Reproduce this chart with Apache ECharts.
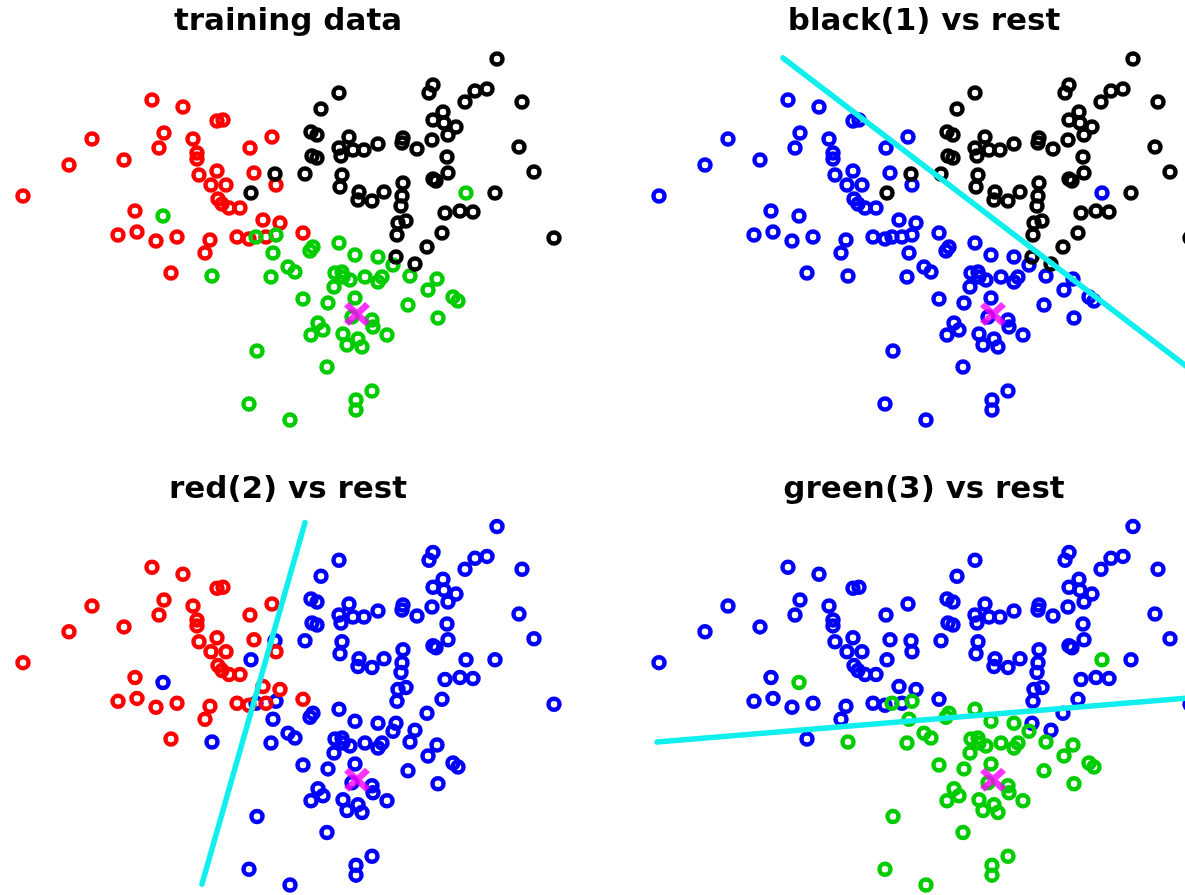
<!DOCTYPE html>
<html>
<head>
<meta charset="utf-8">
<script src="https://cdn.jsdelivr.net/npm/echarts@6/dist/echarts.min.js"></script>
<style>
  html, body { margin: 0; padding: 0; background: #fff; }
  #chart { width: 1185px; height: 895px; }
</style>
</head>
<body>
<div id="chart"></div>
<script>
// Training samples, three classes (x, y in plot units; y grows downward)
const class1Black = [
  [339,93],[321,109],[311,132],[317,135],[312,156],[317,158],[305,174],[275,174],
  [251,193],[349,137],[339,148],[341,156],[353,150],[364,150],[378,144],[342,175],
  [340,187],[359,192],[358,200],[372,201],[384,192],[403,183],[402,196],[401,206],
  [398,223],[406,221],[397,235],[396,257],[415,264],[403,138],[402,143],[417,149],
  [432,140],[447,157],[433,179],[436,181],[448,173],[433,85],[429,93],[443,112],
  [433,120],[444,123],[456,127],[448,135],[465,102],[475,91],[487,89],[497,59],
  [522,102],[519,147],[534,172],[495,193],[554,238],[460,211],[473,212],[445,213],
  [442,233],[427,247]
];
const class2Red = [
  [23,196],[69,165],[92,139],[124,160],[152,100],[183,107],[164,133],[159,148],
  [217,121],[223,120],[193,139],[197,153],[197,159],[199,175],[217,171],[211,185],
  [226,185],[218,199],[222,204],[229,208],[240,208],[250,148],[272,137],[254,173],
  [276,185],[135,211],[137,232],[118,235],[156,241],[177,237],[171,273],[210,240],
  [205,253],[237,237],[249,239],[266,237],[263,220],[280,223],[303,233]
];
const class3Green = [
  [466,193],[163,216],[212,276],[256,237],[276,235],[273,253],[271,277],[288,267],
  [295,272],[310,251],[313,247],[339,243],[355,255],[378,257],[393,265],[335,273],
  [342,272],[343,277],[334,287],[350,280],[365,277],[378,282],[382,277],[410,276],
  [437,279],[428,290],[453,297],[458,301],[408,305],[438,318],[303,299],[328,303],
  [355,298],[372,320],[373,327],[352,317],[318,323],[323,330],[311,335],[343,334],
  [347,345],[358,339],[362,347],[387,335],[257,351],[327,367],[372,391],[356,400],
  [356,410],[249,404],[290,420]
];
// Query point to classify
const queryPoint = [[357,314]];
// One-vs-rest decision boundaries (two end points each)
const boundary1 = [[147,58],[571,382]];
const boundary2 = [[305,55],[202,419]];
const boundary3 = [[21,276],[571,230]];

const panelTitles = ['training data', 'black(1) vs rest', 'red(2) vs rest', 'green(3) vs rest'];

const COLORS = { black: '#000000', red: '#ff0000', green: '#00cc00', blue: '#0000ff',
                 line: '#11eeee', cross: '#ff00ff' };

// Right-hand panels run off the page edge, so their plot width is trimmed
// while keeping one plot unit per pixel.
const panels = [
  { left: 0,   top: 0,   width: 576 },
  { left: 636, top: 0,   width: 549 },
  { left: 0,   top: 468, width: 576 },
  { left: 636, top: 468, width: 549 }
];
const PH = 430;

const grid = panels.map(p => ({ left: p.left, top: p.top, width: p.width, height: PH }));
const hiddenAxis = { show: false, axisLine: { show: false }, axisTick: { show: false },
                     axisLabel: { show: false }, splitLine: { show: false } };
const xAxis = panels.map((p, i) => Object.assign({ type: 'value', gridIndex: i, min: 0, max: p.width }, hiddenAxis));
const yAxis = panels.map((p, i) => Object.assign({ type: 'value', gridIndex: i, min: 0, max: PH, inverse: true }, hiddenAxis));

function ring(panel, data, color, z) {
  return {
    type: 'scatter', xAxisIndex: panel, yAxisIndex: panel, data: data,
    symbol: 'circle', symbolSize: 11, z: z, silent: true, animation: false, clip: false,
    itemStyle: { color: 'rgba(0,0,0,0)', borderColor: color, borderWidth: 4.5, opacity: 1 }
  };
}
function boundary(panel, data) {
  return {
    type: 'line', xAxisIndex: panel, yAxisIndex: panel, data: data,
    symbol: 'none', z: 5, silent: true, animation: false, clip: true,
    lineStyle: { color: COLORS.line, width: 5.5, cap: 'round' }
  };
}
const crossPath = 'path://M0,4.5 L4.5,0 L12,7.5 L19.5,0 L24,4.5 L16.5,12 L24,19.5 L19.5,24 L12,16.5 L4.5,24 L0,19.5 L7.5,12 Z';
function cross(panel) {
  return {
    type: 'scatter', xAxisIndex: panel, yAxisIndex: panel, data: queryPoint,
    symbol: crossPath, symbolSize: [26, 24], z: 10, silent: true, animation: false,
    itemStyle: { color: COLORS.cross }
  };
}

const series = [
  // training data
  ring(0, class2Red, COLORS.red, 2),
  ring(0, class3Green, COLORS.green, 3),
  ring(0, class1Black, COLORS.black, 4),
  cross(0),
  // black(1) vs rest
  ring(1, class2Red.concat(class3Green), COLORS.blue, 2),
  ring(1, class1Black, COLORS.black, 3),
  boundary(1, boundary1),
  cross(1),
  // red(2) vs rest
  ring(2, class1Black.concat(class3Green), COLORS.blue, 2),
  ring(2, class2Red, COLORS.red, 3),
  boundary(2, boundary2),
  cross(2),
  // green(3) vs rest
  ring(3, class1Black.concat(class2Red), COLORS.blue, 2),
  ring(3, class3Green, COLORS.green, 3),
  boundary(3, boundary3),
  cross(3)
];

const graphic = panels.map((p, i) => ({
  type: 'text',
  x: p.left + 288,
  y: p.top + 22,
  z: 20,
  style: {
    text: panelTitles[i],
    textAlign: 'center',
    textVerticalAlign: 'middle',
    font: 'bold 31px "DejaVu Sans", sans-serif',
    fill: '#000'
  }
}));

const chart = echarts.init(document.getElementById('chart'), null, { renderer: 'canvas' });
chart.setOption({
  backgroundColor: '#ffffff',
  animation: false,
  grid: grid,
  xAxis: xAxis,
  yAxis: yAxis,
  graphic: graphic,
  series: series
});
</script>
</body>
</html>
